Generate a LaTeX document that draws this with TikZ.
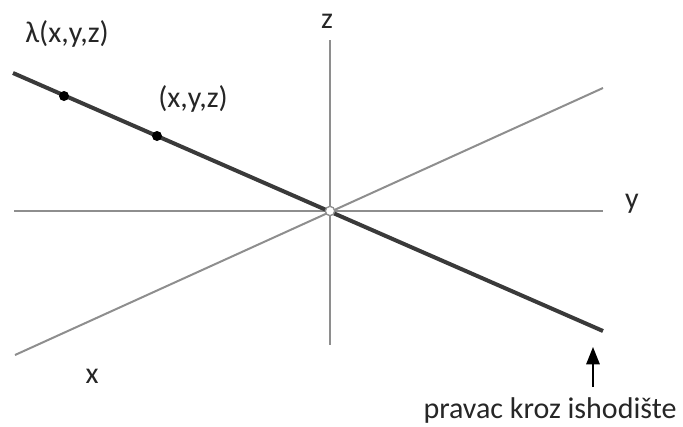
\documentclass[tikz,border=0pt]{standalone}
\usepackage{fontspec}
\setmainfont{Carlito}
\usetikzlibrary{arrows.meta, positioning}
\definecolor{axisgray}{HTML}{8E8E8E}
\definecolor{raydark}{HTML}{3A3A3A}

\begin{document}
\begin{tikzpicture}[
    x=0.75pt, y=-0.75pt,
    axis/.style={line width=1.5pt, draw=axisgray},
    ray/.style={line width=3pt, draw=raydark},
    pointdot/.style={circle, fill=black, inner sep=0pt, minimum size=7.5pt},
    origdot/.style={circle, draw=axisgray, fill=white, line width=1pt, inner sep=0pt, minimum size=7pt},
    txt/.style={font=\fontsize{22.5}{26}\selectfont, anchor=base, inner sep=0pt, text=black!85},
    pointer/.style={-{Triangle[width=10pt, length=13pt]}, line width=1.5pt, black}
]
    \useasboundingbox (0,0) rectangle (683,426);
    % Axis ends
    \coordinate (yL) at (14,211);
    \coordinate (yR) at (603,211);
    \coordinate (zT) at (330,40);
    \coordinate (zB) at (330,345);
    \coordinate (xL) at (15,355);
    \coordinate (xR) at (603,88);
    \coordinate (rayS) at (13,73);
    \coordinate (rayE) at (603,331);
    \coordinate (tailA) at (593,387);
    \coordinate (tipA) at (593,347);

    % Paths
    \draw [axis] (yL) -- (yR);
    \draw [axis] (zT) -- (zB);
    \draw [axis] (xL) -- (xR);
    \draw [ray] (rayS) -- (rayE);
    \draw [pointer] (tailA) -- (tipA);

    % Nodes
    \node (p2) [pointdot] at (64,96) {};
    \node (p1) [pointdot] at (157,136) {};
    \node (O) [origdot] at (330,211) {};
    \node (lam) [txt] at (67,42) {λ(x,y,z)};
    \node (pt) [txt] at (193,107) {(x,y,z)};
    \node (zlab) [txt] at (327,28) {z};
    \node (ylab) [txt] at (632,208) {y};
    \node (xlab) [txt] at (92,383) {x};
    \node (note) [txt] at (550,418) {pravac kroz ishodište};
\end{tikzpicture}
\end{document}
